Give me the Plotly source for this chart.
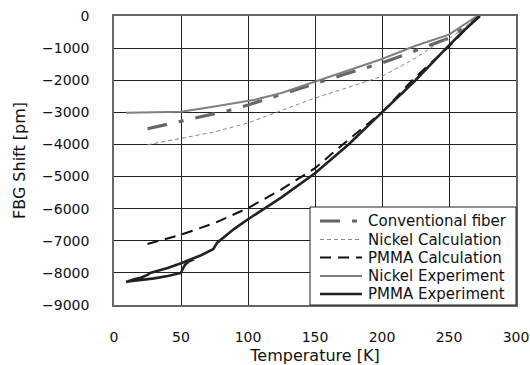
import plotly.graph_objects as go

# Temperature sweeps [K] and FBG wavelength shifts [pm]
conv_T = [25, 40, 50, 60, 75, 85, 100, 125, 150, 175, 200, 225, 250, 273]
conv_v = [-3510, -3375, -3290, -3180, -3045, -2950, -2770, -2430, -2090, -1775, -1465, -1080, -690, 0]

ni_calc_T = [25, 35, 50, 64, 75, 100, 125, 150, 175, 200, 225, 240, 250, 260, 271]
ni_calc_v = [-4010, -3930, -3830, -3700, -3610, -3330, -2950, -2555, -2220, -1880, -1310, -895, -700, -420, 0]

pmma_calc_T = [25, 50, 75, 100, 125, 150, 175, 200, 225, 250, 272]
pmma_calc_v = [-7100, -6810, -6450, -5980, -5400, -4740, -3850, -3000, -1900, -950, 0]

ni_exp_T = [9, 25, 50, 75, 105, 125, 150, 175, 200, 225, 250, 271]
ni_exp_v = [-3010, -3005, -2980, -2815, -2610, -2400, -2040, -1700, -1340, -925, -580, 0]

# cooling run down to ~9 K, then the warming branch back up (hysteresis loop)
pmma_exp_T = [273, 260, 248, 225, 200, 175, 150, 125, 100, 90, 77, 75, 74, 65, 55, 50, 40, 30,
              27, 25, 20, 15, 10, 9, 12, 20, 30, 40, 48, 50, 51, 53, 56, 60]
pmma_exp_v = [0, -500, -1000, -2000, -3000, -4000, -4900, -5650, -6330, -6620, -7060, -7200, -7260,
              -7450, -7620, -7700, -7850, -7950, -8000, -8060, -8150, -8200, -8250, -8280,
              -8260, -8230, -8170, -8100, -8030, -8000, -7900, -7750, -7640, -7570]

series_names = ["Conventional fiber", "Nickel Calculation", "PMMA Calculation",
                "Nickel Experiment", "PMMA Experiment"]

x_ticks = [0, 50, 100, 150, 200, 250, 300]
y_ticks = [0, -1000, -2000, -3000, -4000, -5000, -6000, -7000, -8000, -9000]

FONT = "DejaVu Sans, Arial, sans-serif"

styles = [
    dict(color="#666666", width=3.2, dash="20px,12px,5px,12px"),
    dict(color="#888888", width=1, dash="4px,3px"),
    dict(color="#111111", width=2, dash="11px,7px"),
    dict(color="#808080", width=2),
    dict(color="#222222", width=2.6),
]
data = [(conv_T, conv_v), (ni_calc_T, ni_calc_v), (pmma_calc_T, pmma_calc_v),
        (ni_exp_T, ni_exp_v), (pmma_exp_T, pmma_exp_v)]

fig = go.Figure()
for name, (t, v), st in zip(series_names, data, styles):
    fig.add_trace(go.Scatter(x=t, y=v, mode="lines", name=name, line=st, showlegend=False))

# compact boxed legend in the lower-right corner of the plot area
W, H = 530, 365
L, R, T, B = 114, 14, 16, 60
pw, ph = W - L - R, H - T - B


def px_x(p):
    return (p - L) / pw


def px_y(p):
    return (H - B - p) / ph


shapes = [dict(type="rect", xref="paper", yref="paper",
               x0=px_x(310), x1=1, y0=0, y1=px_y(207),
               fillcolor="white", line=dict(color="#222222", width=1), layer="above")]
annotations = []
row_y = [221, 239.5, 257.5, 276, 294]
for name, st, ry in zip(series_names, styles, row_y):
    shapes.append(dict(type="line", xref="paper", yref="paper",
                       x0=px_x(320), x1=px_x(362), y0=px_y(ry), y1=px_y(ry),
                       line=dict(color=st["color"], width=st["width"], dash=st.get("dash", "solid")),
                       layer="above"))
    annotations.append(dict(xref="paper", yref="paper", x=px_x(366), y=px_y(ry),
                            xanchor="left", yanchor="middle", showarrow=False,
                            text=name, font=dict(size=15, family=FONT, color="#111111")))

fig.update_layout(
    width=W, height=H,
    margin=dict(l=L, r=R, t=T, b=B),
    paper_bgcolor="white", plot_bgcolor="white",
    font=dict(family=FONT, size=14, color="#111111"),
    showlegend=False,
    shapes=shapes,
    annotations=annotations,
)
fig.update_xaxes(
    range=[0, 300], tickvals=x_ticks, ticktext=[str(v) for v in x_ticks],
    showgrid=True, gridcolor="#222222", gridwidth=1,
    showline=True, linecolor="#666666", linewidth=1.5, mirror=True,
    zeroline=False, ticks="outside", ticklen=18, tickcolor="rgba(0,0,0,0)",
    automargin=False,
    title=dict(text="Temperature [K]", standoff=8, font=dict(size=16)),
)
fig.update_yaxes(
    range=[-9000, 0], tickvals=y_ticks, ticktext=[str(v).replace("-", "\u2212") for v in y_ticks],
    showgrid=True, gridcolor="#222222", gridwidth=1,
    showline=True, linecolor="#666666", linewidth=1.5, mirror=True,
    zeroline=False, ticks="outside", ticklen=20, tickcolor="rgba(0,0,0,0)",
    automargin=False,
    title=dict(text="FBG Shift [pm]", standoff=12, font=dict(size=16)),
)

fig.write_html("out.html")
